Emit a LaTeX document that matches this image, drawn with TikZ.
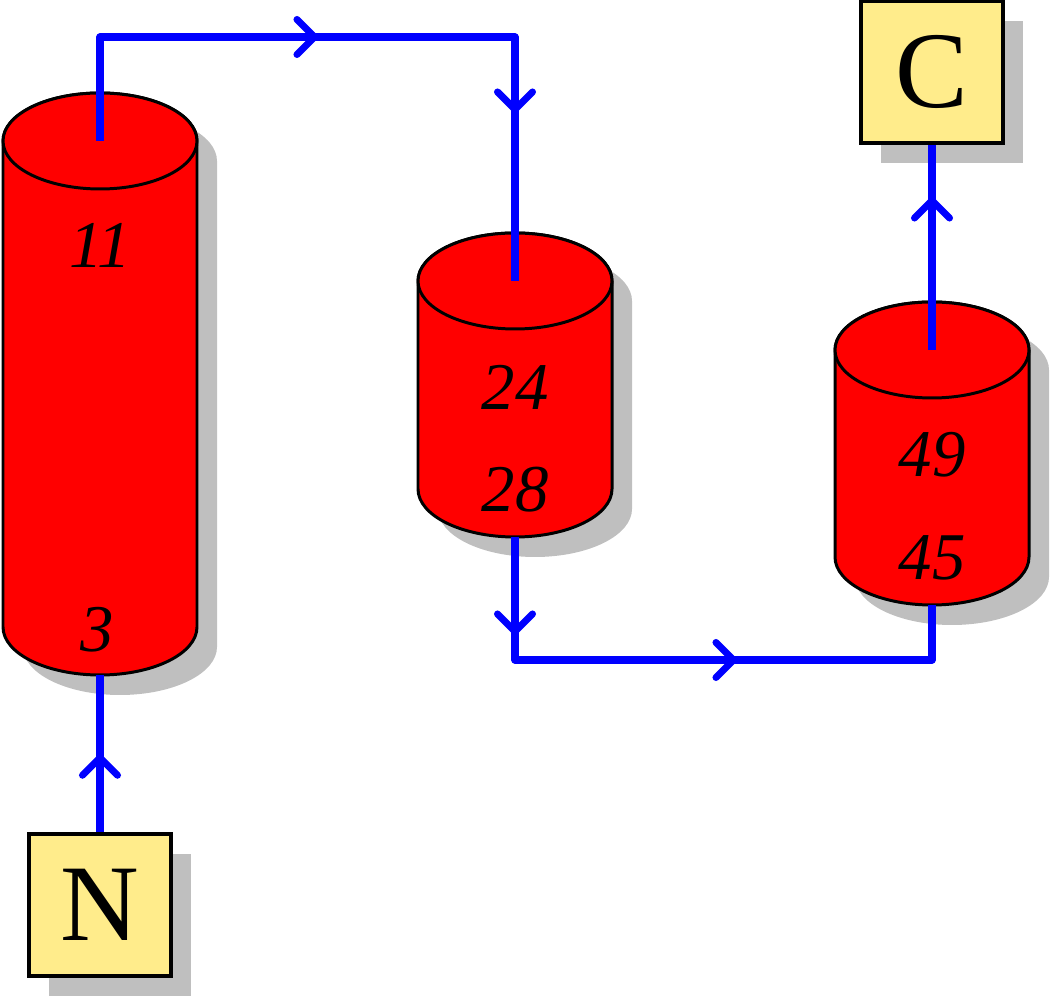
\documentclass[tikz,border=0pt]{standalone}
\usepackage{fontspec}
\setmainfont{Liberation Serif}
\usepackage{tikz}
\usetikzlibrary{calc}
\usetikzlibrary{shapes.geometric}
\usetikzlibrary{positioning}
\usetikzlibrary{arrows.meta}
\usetikzlibrary{decorations.markings}
\usetikzlibrary{shadows}
\usepackage{xcolor}
\definecolor{boxyellow}{HTML}{FFEC8B}

\tikzset{
    >={Straight Barb[length=3.5mm, width=7mm, round]},
    flow/.style={blue, line width=4pt, line join=round},
    flowmark/.style={postaction={decorate, decoration={markings, mark=at position #1 with {\arrow{>}}}}},
    tankline/.style={draw=black, line width=1.7pt, fill=red},
    tanklabel/.style={font=\fontsize{38}{38}\selectfont\itshape},
    endbox/.style={draw=black, line width=2pt, fill=boxyellow, minimum size=2.84cm,
        font=\fontsize{62}{62}\selectfont,
        drop shadow={shadow xshift=0.4cm, shadow yshift=-0.4cm, fill=gray!50, opacity=1}}
}

\begin{document}
\begin{tikzpicture}
    \useasboundingbox (0,0) rectangle (21.04,19.92);

    % 1. Draw the three tanks (shadow, body, top ellipse) and name their ends
    \foreach \name/\x/\yt/\yb in {left/2.0/17.1/7.38, middle/10.3/14.3/10.14, right/18.64/12.92/8.78} {
        \fill[gray!50] (\x-1.54,\yt-0.4) -- (\x-1.54,\yb-0.4)
            arc[start angle=180, end angle=360, x radius=1.94, y radius=0.96]
            -- (\x+2.34,\yt-0.4)
            arc[start angle=0, end angle=180, x radius=1.94, y radius=0.96] -- cycle;
        \filldraw[tankline] (\x-1.94,\yt) -- (\x-1.94,\yb)
            arc[start angle=180, end angle=360, x radius=1.94, y radius=0.96]
            -- (\x+1.94,\yt)
            arc[start angle=0, end angle=180, x radius=1.94, y radius=0.96] -- cycle;
        \draw[tankline] (\x,\yt) ellipse[x radius=1.94, y radius=0.96];
        \coordinate (\name-top) at (\x,\yt);
        \coordinate (\name-bot) at (\x,\yb-0.96);
    }

    % 2. Add the numbers on the tanks
    \node[tanklabel] (t11) at (2.0,15.02) {11};
    \node[tanklabel] (t3) at (1.94,7.32) {3};
    \node[tanklabel] (t24) at (10.3,12.18) {24};
    \node[tanklabel] (t28) at (10.3,10.12) {28};
    \node[tanklabel] (t49) at (18.64,10.82) {49};
    \node[tanklabel] (t45) at (18.64,8.76) {45};

    % 3. Feed and product boxes
    \node[endbox] (feed) at (2.0,1.82) {N};
    \node[endbox] (product) at (18.64,18.48) {C};

    % 4. Turning points of the pipes
    \coordinate (topturn) at (2.0,19.18);
    \coordinate (lowturn) at (10.3,6.72);

    % 5. Draw the flow from box to box through the tanks
    \draw[flow, flowmark=1.56cm] (feed.north) -- (left-bot);
    \draw[flow, flowmark=6.44cm, flowmark=11.9cm] (left-top) -- (topturn) -| (middle-top);
    \draw[flow, flowmark=1.96cm, flowmark=6.9cm] (middle-bot) -- (lowturn) -| (right-bot);
    \draw[flow, flowmark=3.06cm] (right-top) -- (product.south);

\end{tikzpicture}
\end{document}
